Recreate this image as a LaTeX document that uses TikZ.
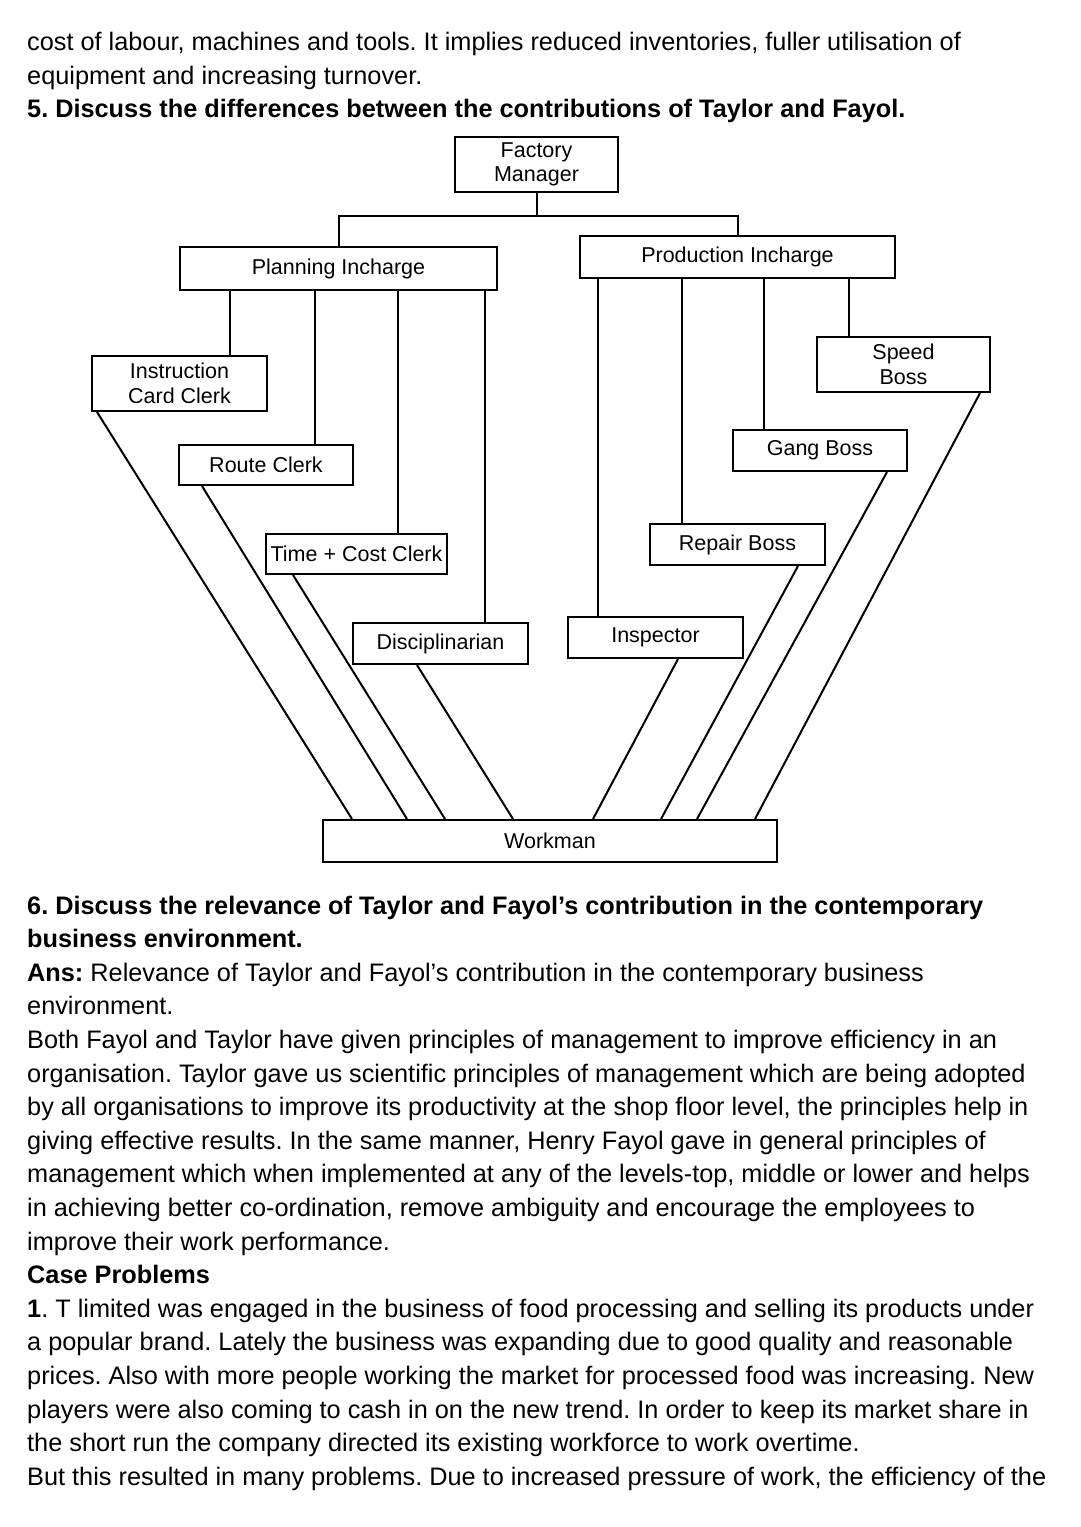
\documentclass[tikz,border=0pt]{standalone}
\usepackage{fontspec}
\setmainfont{Liberation Sans}
\frenchspacing
\begin{document}
\frenchspacing
\begin{tikzpicture}[x=1pt,y=-1pt,
  box/.style={draw,line width=2pt,inner sep=0pt,align=center,font=\fontsize{21.5}{24.5}\selectfont},
  ln/.style={line width=2pt},
  txt/.style={anchor=base west,inner sep=0pt,font=\fontsize{25.3}{30}\selectfont}]
\useasboundingbox (0,0) rectangle (1080,1527);
% ---------- text above ----------
\node[txt] (a1) at (27,50.5) {cost of labour, machines and tools. It implies reduced inventories, fuller utilisation of};
\node[txt] (a2) at (27,84) {equipment and increasing turnover.};
\node[txt] (a3) at (27,117.7) {\bfseries 5. Discuss the differences between the contributions of Taylor and Fayol.};
% ---------- diagram ----------
\node[box,minimum width=163pt,minimum height=55pt] (fm) at (536.5,164.5) {Factory\\Manager};
\node[box,minimum width=317pt,minimum height=43pt] (pi) at (338.5,268.5) {Planning Incharge};
\node[box,minimum width=315pt,minimum height=42pt] (pr) at (737.5,257) {Production Incharge};
\node[box,minimum width=175pt,minimum height=55pt] (icc) at (179.5,383.5) {Instruction\\Card Clerk};
\node[box,minimum width=174pt,minimum height=40pt] (rc) at (266,465) {Route Clerk};
\node[box,minimum width=181pt,minimum height=40pt] (tcc) at (356.5,554) {Time + Cost Clerk};
\node[box,minimum width=175pt,minimum height=41pt] (dis) at (440.5,643.5) {Disciplinarian};
\node[box,minimum width=173pt,minimum height=55pt] (sb) at (903.5,364.5) {Speed\\Boss};
\node[box,minimum width=174pt,minimum height=41pt] (gb) at (820,450.5) {Gang Boss};
\node[box,minimum width=175pt,minimum height=41pt] (rb) at (737.5,544.5) {Repair Boss};
\node[box,minimum width=175pt,minimum height=41pt] (ins) at (655.5,637.5) {Inspector};
\node[box,minimum width=454pt,minimum height=42pt] (wk) at (550,841) {Workman};
\coordinate (bar) at (536.5,216);
\draw[ln] (fm.south) -- (bar);
\draw[ln] (pi.north) |- (bar) -| (pr.north);
% planning verticals
\draw[ln] ([xshift=50.5pt]icc.north) -- ([xshift=50.5pt]icc.north |- pi.south);
\draw[ln] ([xshift=49pt]rc.north) -- ([xshift=49pt]rc.north |- pi.south);
\draw[ln] ([xshift=41.5pt]tcc.north) -- ([xshift=41.5pt]tcc.north |- pi.south);
\draw[ln] ([xshift=44.5pt]dis.north) -- ([xshift=44.5pt]dis.north |- pi.south);
% production verticals
\draw[ln] ([xshift=-57.5pt]ins.north) -- ([xshift=-57.5pt]ins.north |- pr.south);
\draw[ln] ([xshift=-55.5pt]rb.north) -- ([xshift=-55.5pt]rb.north |- pr.south);
\draw[ln] ([xshift=-56pt]gb.north) -- ([xshift=-56pt]gb.north |- pr.south);
\draw[ln] ([xshift=-54.5pt]sb.north) -- ([xshift=-54.5pt]sb.north |- pr.south);
% diagonals to workman
\draw[ln] ([xshift=-82.5pt]icc.south) -- ([xshift=-198pt]wk.north);
\draw[ln] ([xshift=-64pt]rc.south) -- ([xshift=-143pt]wk.north);
\draw[ln] ([xshift=-63.5pt]tcc.south) -- ([xshift=-105pt]wk.north);
\draw[ln] ([xshift=-23.5pt]dis.south) -- ([xshift=-37pt]wk.north);
\draw[ln] ([xshift=22.5pt]ins.south) -- ([xshift=43pt]wk.north);
\draw[ln] ([xshift=60.5pt]rb.south) -- ([xshift=111pt]wk.north);
\draw[ln] ([xshift=67pt]gb.south) -- ([xshift=147pt]wk.north);
\draw[ln] ([xshift=76.5pt]sb.south) -- ([xshift=205pt]wk.north);
% ---------- text below ----------
\node[txt] (b1) at (27,914) {\bfseries 6. Discuss the relevance of Taylor and Fayol’s contribution in the contemporary};
\node[txt] (b2) at (27,947.6) {\bfseries business environment.};
\node[txt] (b3) at (27,981.2) {\textbf{Ans:} Relevance of Taylor and Fayol’s contribution in the contemporary business};
\node[txt] (b4) at (27,1014.8) {environment.};
\node[txt] (b5) at (27,1048.4) {Both Fayol and Taylor have given principles of management to improve efficiency in an};
\node[txt] (b6) at (27,1082) {organisation. Taylor gave us scientific principles of management which are being adopted};
\node[txt] (b7) at (27,1115.6) {by all organisations to improve its productivity at the shop floor level, the principles help in};
\node[txt] (b8) at (27,1149.2) {giving effective results. In the same manner, Henry Fayol gave in general principles of};
\node[txt] (b9) at (27,1182.8) {management which when implemented at any of the levels-top, middle or lower and helps};
\node[txt] (b10) at (27,1216.4) {in achieving better co-ordination, remove ambiguity and encourage the employees to};
\node[txt] (b11) at (27,1250) {improve their work performance.};
\node[txt] (b12) at (27,1283.6) {\bfseries Case Problems};
\node[txt] (b13) at (27,1317.2) {\textbf{1}. T limited was engaged in the business of food processing and selling its products under};
\node[txt] (b14) at (27,1350.8) {a popular brand. Lately the business was expanding due to good quality and reasonable};
\node[txt] (b15) at (27,1384.4) {prices. Also with more people working the market for processed food was increasing. New};
\node[txt] (b16) at (27,1418) {players were also coming to cash in on the new trend. In order to keep its market share in};
\node[txt] (b17) at (27,1451.6) {the short run the company directed its existing workforce to work overtime.};
\node[txt] (b18) at (27,1485.2) {But this resulted in many problems. Due to increased pressure of work, the efficiency of the};
\end{tikzpicture}
\end{document}
